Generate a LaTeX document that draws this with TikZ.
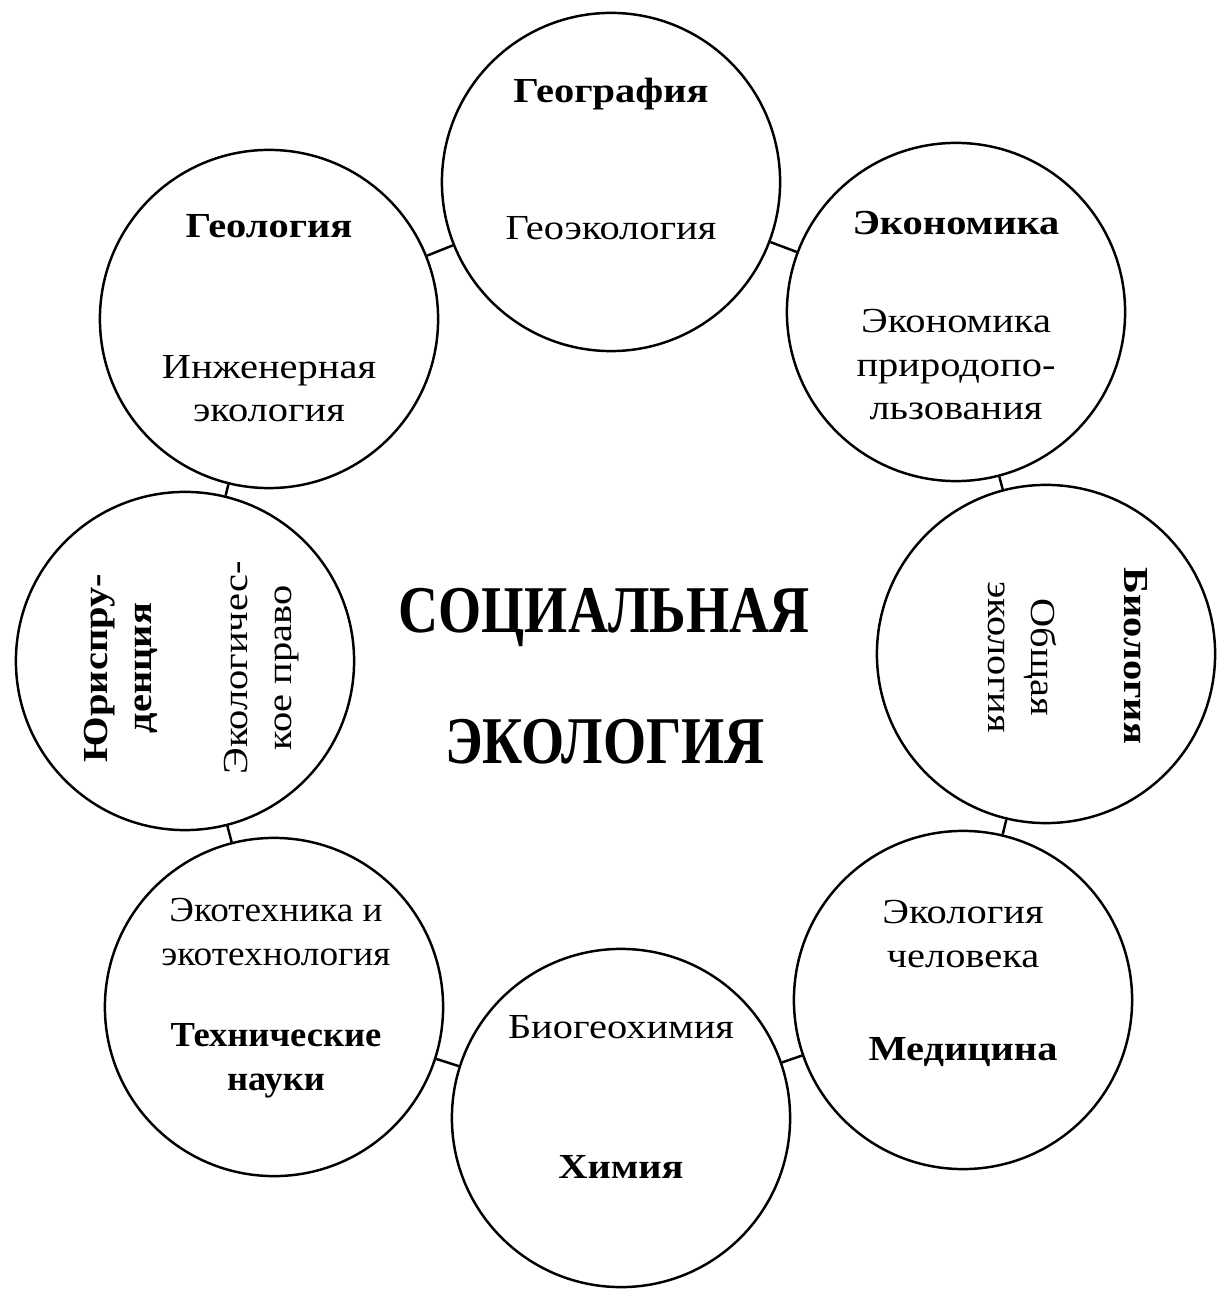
\documentclass[tikz,border=0pt]{standalone}
\usepackage{fontspec}
\setmainfont{Liberation Serif}[FakeStretch=1.15]
\newfontfamily\titlefont{Liberation Serif}[FakeStretch=0.83]
\tikzset{
	disc/.style={circle,draw,line width=0.7pt,minimum size=3.38cm,inner sep=0pt},
	head/.style={font=\fontsize{10}{12.5}\selectfont\bfseries,align=center,anchor=base,inner sep=0pt},
	sub/.style={font=\fontsize{10}{12.5}\selectfont,align=center,anchor=base,inner sep=0pt},
	title/.style={font=\titlefont\fontsize{19}{19}\selectfont\bfseries,anchor=base,inner sep=0pt},
	link/.style={line width=0.7pt}
}
\begin{document}
\begin{tikzpicture}[x=0.01cm,y=-0.01cm]
	\useasboundingbox (0,0) rectangle (1222,1298);
	\node[disc] (geol) at (269,319) {};
	\node[disc] (geog) at (611,182) {};
	\node[disc] (econ) at (956,312) {};
	\node[disc] (biol) at (1046,654) {};
	\node[disc] (medi) at (963,1000) {};
	\node[disc] (chem) at (621,1118) {};
	\node[disc] (tech) at (274,1007) {};
	\node[disc] (juri) at (185,661) {};
	\draw[link] (geol) -- (geog);
	\draw[link] (geog) -- (econ);
	\draw[link] (econ) -- (biol);
	\draw[link] (biol) -- (medi);
	\draw[link] (medi) -- (chem);
	\draw[link] (chem) -- (tech);
	\draw[link] (tech) -- (juri);
	\draw[link] (juri) -- (geol);
	\node[head] (geolH) at (269,238) {Геология};
	\node[sub] (geolS) at (269,422) {Инженерная\\экология};
	\node[head] (geogH) at (611,103) {География};
	\node[sub] (geogS) at (611,240) {Геоэкология};
	\node[head] (econH) at (956,235) {Экономика};
	\node[sub] (econS) at (956,420) {Экономика\\природопо-\\льзования};
	\node[head,rotate=-90] (biolH) at (1124,656) {Биология};
	\node[sub,rotate=-90] (biolS) at (988,657) {Общая\\экология};
	\node[sub] (mediS) at (963,967) {Экология\\человека};
	\node[head] (mediH) at (963,1060) {Медицина};
	\node[sub] (chemS) at (621,1038) {Биогеохимия};
	\node[head] (chemH) at (621,1178) {Химия};
	\node[sub,font=\fontsize{10}{12.5}\selectfont\addfontfeature{FakeStretch=1.06}] (techS) at (276,965) {Экотехника и\\экотехнология};
	\node[head,font=\fontsize{10}{12.5}\selectfont\bfseries\addfontfeature{FakeStretch=1.04}] (techH) at (276,1090) {Технические\\науки};
	\node[head,rotate=90] (juriH) at (151,668) {Юриспру-\\денция};
	\node[sub,rotate=90] (juriS) at (291,668) {Экологичес-\\кое право};
	\node[title] (titleA) at (604,632) {СОЦИАЛЬНАЯ};
	\node[title] (titleB) at (605,763) {ЭКОЛОГИЯ};
\end{tikzpicture}
\end{document}
